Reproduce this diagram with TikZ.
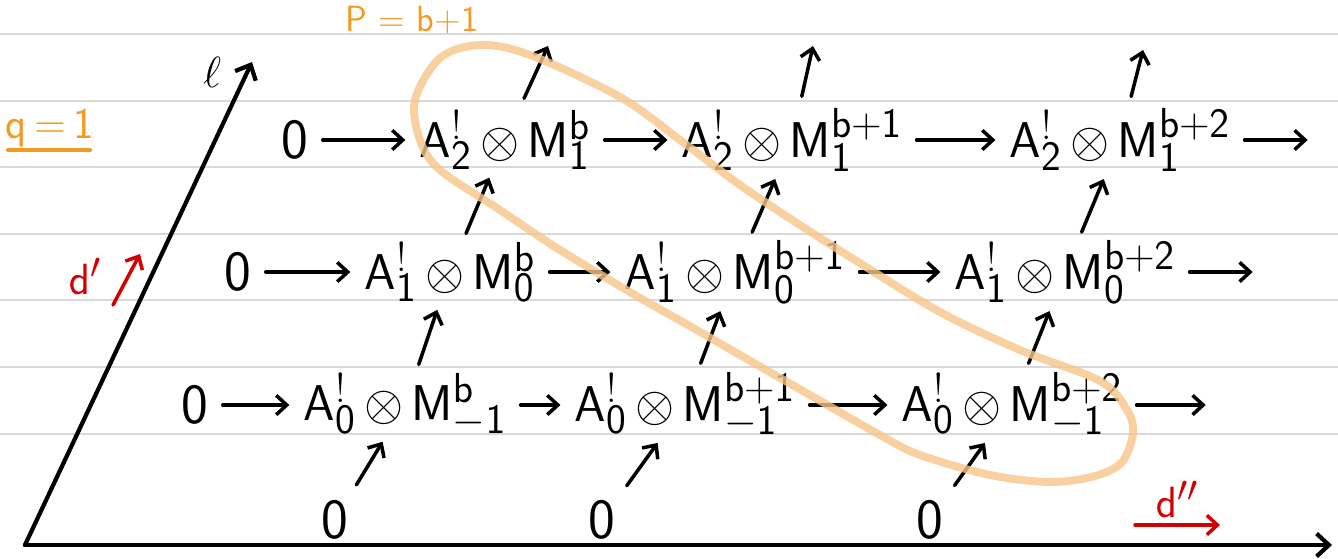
\documentclass[tikz,border=0pt]{standalone}
\usepackage{graphicx}
\renewcommand{\familydefault}{\sfdefault}
\usetikzlibrary{arrows.meta}

\definecolor{ruled}{HTML}{D9D9D9}
\definecolor{penred}{HTML}{D40000}
\definecolor{penorange}{HTML}{F29A21}
\definecolor{hlorange}{HTML}{F7C68A}

% A^!_i (x) M^p_j
\newcommand{\AM}[3]{\scalebox{1.15}{$\mathsf{A}^{!}_{\mathsf{#1}}\,{\otimes}\,\mathsf{M}^{\mathsf{#3}}_{\mathsf{#2}}$}}
\newcommand{\Zero}{\scalebox{1.3}{0}}

\begin{document}
\begin{tikzpicture}[
    x=0.02cm, y=-0.02cm,
    term/.style={inner sep=1pt, font=\fontsize{24.88}{30}\selectfont},
    label/.style={inner sep=1pt, font=\fontsize{24.88}{30}\selectfont},
    arrow/.style={-{Straight Barb[length=6pt,width=11pt]}, line width=2pt,
        line cap=round, line join=round, shorten <=7pt, shorten >=7pt},
    uparrow/.style={arrow, shorten <=4pt, shorten >=3.5pt},
    axisline/.style={-{Straight Barb[length=7pt,width=13pt]}, line width=2.4pt,
        line cap=round, line join=round},
    blob/.style={hlorange, line width=4.5pt, opacity=0.8}
]
\useasboundingbox (0,0) rectangle (1338,558);

% ruled paper
\foreach \y in {34,101,167,234,300,367,434}
    \draw[ruled, line width=1pt] (0,\y) -- (1338,\y);

% axes
\coordinate (origin) at (25,545);
\coordinate (xend) at (1332,545);
\coordinate (yend) at (252,62);
\draw[axisline] (origin) -- (xend);
\draw[axisline] (origin) -- (yend);
\node[label] (ell) at (212,72) {$\ell$};

% row q+1 = 2
\node[term] (z2) at (295,140) {\Zero};
\node[term] (a2b) at (505,140) {\AM{2}{1}{b}};
\node[term] (a2c) at (792,140) {\AM{2}{1}{b+1}};
\node[term] (a2d) at (1120,140) {\AM{2}{1}{b+2}};
\coordinate (e2) at (1320,140);

% row 1
\node[term] (z1) at (238,272) {\Zero};
\node[term] (a1b) at (450,272) {\AM{1}{0}{b}};
\node[term] (a1c) at (735,272) {\AM{1}{0}{b+1}};
\node[term] (a1d) at (1065,272) {\AM{1}{0}{b+2}};
\coordinate (e1) at (1265,272);

% row 0
\node[term] (z0) at (195,405) {\Zero};
\node[term] (a0b) at (405,405) {\AM{0}{-1}{b}};
\node[term] (a0c) at (685,405) {\AM{0}{-1}{b+1}};
\node[term] (a0d) at (1012,405) {\AM{0}{-1}{b+2}};
\coordinate (e0) at (1218,405);

% zeros below
\node[term] (b0) at (335,520) {\Zero};
\node[term] (b1) at (602,520) {\Zero};
\node[term] (b2) at (930,520) {\Zero};

% free ends above
\coordinate (u0) at (548,46);
\coordinate (u1) at (813,46);
\coordinate (u2) at (1143,50);

% horizontal maps d''
\draw[arrow] (z2) -- (a2b);
\draw[arrow] (a2b) -- (a2c);
\draw[arrow] (a2c) -- (a2d);
\draw[arrow] (a2d) -- (e2);
\draw[arrow] (z1) -- (a1b);
\draw[arrow] (a1b) -- (a1c);
\draw[arrow] (a1c) -- (a1d);
\draw[arrow] (a1d) -- (e1);
\draw[arrow] (z0) -- (a0b);
\draw[arrow] (a0b) -- (a0c);
\draw[arrow] (a0c) -- (a0d);
\draw[arrow] (a0d) -- (e0);

% vertical maps d'
\draw[uparrow, shorten <=9pt, shorten >=2pt] (b0) -- (a0b);
\draw[uparrow, shorten <=9pt, shorten >=2pt] (b1) -- (a0c);
\draw[uparrow, shorten <=9pt, shorten >=2pt] (b2) -- (a0d);
\draw[uparrow] (a0b) -- (a1b);
\draw[uparrow] (a0c) -- (a1c);
\draw[uparrow] (a0d) -- (a1d);
\draw[uparrow] (a1b) -- (a2b);
\draw[uparrow] (a1c) -- (a2c);
\draw[uparrow] (a1d) -- (a2d);
\draw[uparrow, shorten <=6pt, shorten >=0pt] (a2b) -- (u0);
\draw[uparrow, shorten <=6pt, shorten >=0pt] (a2c) -- (u1);
\draw[uparrow, shorten <=6pt, shorten >=0pt] (a2d) -- (u2);

% differentials
\coordinate (dp0) at (113,305);
\coordinate (dp1) at (140,254);
\draw[arrow, penred, shorten <=0pt, shorten >=0pt] (dp0) -- (dp1);
\node[label, text=penred] (dprime) at (85,276) {$\mathsf{d}'$};
\coordinate (dq0) at (1135,525);
\coordinate (dq1) at (1220,525);
\draw[arrow, penred, shorten <=0pt, shorten >=0pt] (dq0) -- (dq1);
\node[label, text=penred] (ddprime) at (1177,499) {$\mathsf{d}''$};

% fixed q and p
\node[label, text=penorange] (qfix) at (50,128) {q\,=\,1};
\draw[penorange, line width=2.4pt, line cap=round] (8,150) -- (90,150);
\node[label, text=penorange, font=\fontsize{20.74}{24}\selectfont] (pfix) at (412,20) {P = b+1};

% the diagonal p+q = const
\draw[blob] plot[smooth cycle, tension=0.55] coordinates {
    (415,100) (440,58) (480,45) (530,55) (620,97) (680,140) (740,185)
    (800,225) (855,260) (940,312) (1020,350) (1100,381) (1127,410)
    (1133,433) (1122,462) (1095,476) (1050,482) (990,475) (920,455)
    (880,435) (810,395) (740,355) (688,325) (635,295) (560,250)
    (500,210) (440,170) (420,140)};

\end{tikzpicture}
\end{document}
